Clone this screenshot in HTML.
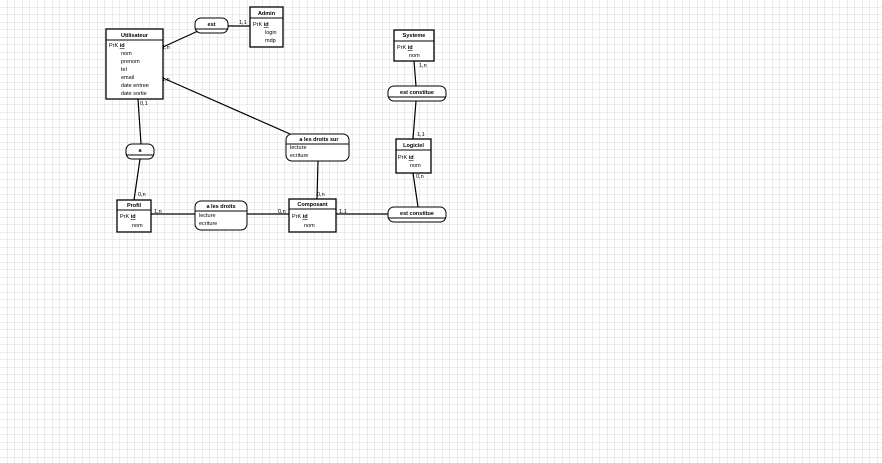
<!DOCTYPE html>
<html><head><meta charset="utf-8"><style>
html,body{margin:0;padding:0;background:#fff;}
svg{display:block;font-family:"Liberation Sans",sans-serif;}
.t{font-size:5.5px;fill:#000;}
.b{font-size:5.5px;font-weight:bold;fill:#000;}
</style></head><body>
<svg width="882" height="463" viewBox="0 0 882 463" xmlns="http://www.w3.org/2000/svg">
<defs><pattern id="g" width="7.5" height="7.5" patternUnits="userSpaceOnUse"><path d="M7.5 0V7.5H0" fill="none" stroke="#d0d0d0" stroke-width="0.8"/></pattern></defs>
<rect width="882" height="463" fill="url(#g)"/>
<g stroke="#000" stroke-width="1.2" fill="none">
<line x1="163" y1="47" x2="198" y2="31"/>
<line x1="228" y1="26" x2="250" y2="26"/>
<line x1="163" y1="78" x2="290" y2="134"/>
<line x1="138" y1="99" x2="141" y2="144"/>
<line x1="140" y1="159" x2="134" y2="200"/>
<line x1="151" y1="214" x2="195" y2="214"/>
<line x1="247" y1="214" x2="289" y2="214"/>
<line x1="317" y1="199" x2="318" y2="161"/>
<line x1="336" y1="214" x2="388" y2="214"/>
<line x1="413" y1="173" x2="418" y2="207"/>
<line x1="414" y1="61" x2="416" y2="86"/>
<line x1="416" y1="101" x2="413" y2="139"/>
</g>
<g stroke="#000" fill="#fff">
<rect x="106" y="29" width="57" height="70" stroke-width="1.3"/><line x1="106" y1="40" x2="163" y2="40"/>
<rect x="250" y="7" width="33" height="40" stroke-width="1.3"/><line x1="250" y1="18" x2="283" y2="18"/>
<rect x="117" y="200" width="34" height="32" stroke-width="1.3"/><line x1="117" y1="210" x2="151" y2="210"/>
<rect x="289" y="199" width="47" height="33" stroke-width="1.3"/><line x1="289" y1="209" x2="336" y2="209"/>
<rect x="394" y="30" width="40" height="31" stroke-width="1.3"/><line x1="394" y1="41" x2="434" y2="41"/>
<rect x="396" y="139" width="35" height="34" stroke-width="1.3"/><line x1="396" y1="150" x2="431" y2="150"/>
<rect x="195" y="18" width="33" height="15" rx="6"/><line x1="195" y1="29" x2="228" y2="29"/>
<rect x="126" y="144" width="28" height="15" rx="6"/><line x1="126" y1="155" x2="154" y2="155"/>
<rect x="195" y="201" width="52" height="29" rx="6"/><line x1="195" y1="211" x2="247" y2="211"/>
<rect x="286" y="134" width="63" height="27" rx="6"/><line x1="286" y1="144" x2="349" y2="144"/>
<rect x="388" y="86" width="58" height="15" rx="6"/><line x1="388" y1="97" x2="446" y2="97"/>
<rect x="388" y="207" width="58" height="15" rx="6"/><line x1="388" y1="218" x2="446" y2="218"/>
</g>
<text class="b" x="134.5" y="37" text-anchor="middle">Utilisateur</text>
<text class="t" x="109" y="47">PrK <tspan text-decoration="underline" font-weight="bold">id</tspan></text>
<text class="t" x="121" y="55">nom</text><text class="t" x="121" y="63">prenom</text>
<text class="t" x="121" y="71">tel</text><text class="t" x="121" y="79">email</text>
<text class="t" x="121" y="87">date entree</text><text class="t" x="121" y="95">date sortie</text>
<text class="b" x="266.5" y="15" text-anchor="middle">Admin</text>
<text class="t" x="253" y="26">PrK <tspan text-decoration="underline" font-weight="bold">id</tspan></text>
<text class="t" x="265" y="34">login</text><text class="t" x="265" y="42">mdp</text>
<text class="b" x="211.5" y="26" text-anchor="middle">est</text>
<text class="b" x="140" y="152" text-anchor="middle">a</text>
<text class="b" x="134" y="207" text-anchor="middle">Profil</text>
<text class="t" x="120" y="218">PrK <tspan text-decoration="underline" font-weight="bold">id</tspan></text>
<text class="t" x="132" y="227">nom</text>
<text class="b" x="221" y="208" text-anchor="middle">a les droits</text>
<text class="t" x="199" y="217">lecture</text><text class="t" x="199" y="225">ecriture</text>
<text class="b" x="312.5" y="206" text-anchor="middle">Composant</text>
<text class="t" x="292" y="218">PrK <tspan text-decoration="underline" font-weight="bold">id</tspan></text>
<text class="t" x="304" y="227">nom</text>
<text class="b" x="319" y="141" text-anchor="middle">a les droits sur</text>
<text class="t" x="290" y="149">lecture</text><text class="t" x="290" y="157">ecriture</text>
<text class="b" x="414" y="37" text-anchor="middle">Systeme</text>
<text class="t" x="397" y="49">PrK <tspan text-decoration="underline" font-weight="bold">id</tspan></text>
<text class="t" x="409" y="57">nom</text>
<text class="b" x="417" y="94" text-anchor="middle">est constitue</text>
<text class="b" x="413.5" y="147" text-anchor="middle">Logiciel</text>
<text class="t" x="398" y="159">PrK <tspan text-decoration="underline" font-weight="bold">id</tspan></text>
<text class="t" x="410" y="167">nom</text>
<text class="b" x="417" y="215" text-anchor="middle">est constitue</text>
<text x="162" y="49" class="t">1,n</text><text x="239" y="24" class="t">1,1</text>
<text x="162" y="81" class="t">1,n</text><text x="140" y="105" class="t">0,1</text>
<text x="138" y="196" class="t">0,n</text><text x="154" y="213" class="t">1,n</text>
<text x="278" y="213" class="t">0,n</text><text x="317" y="196" class="t">0,n</text>
<text x="339" y="213" class="t">1,1</text><text x="419" y="67" class="t">1,n</text>
<text x="417" y="136" class="t">1,1</text><text x="416" y="178" class="t">0,n</text>
</svg>
</body></html>
